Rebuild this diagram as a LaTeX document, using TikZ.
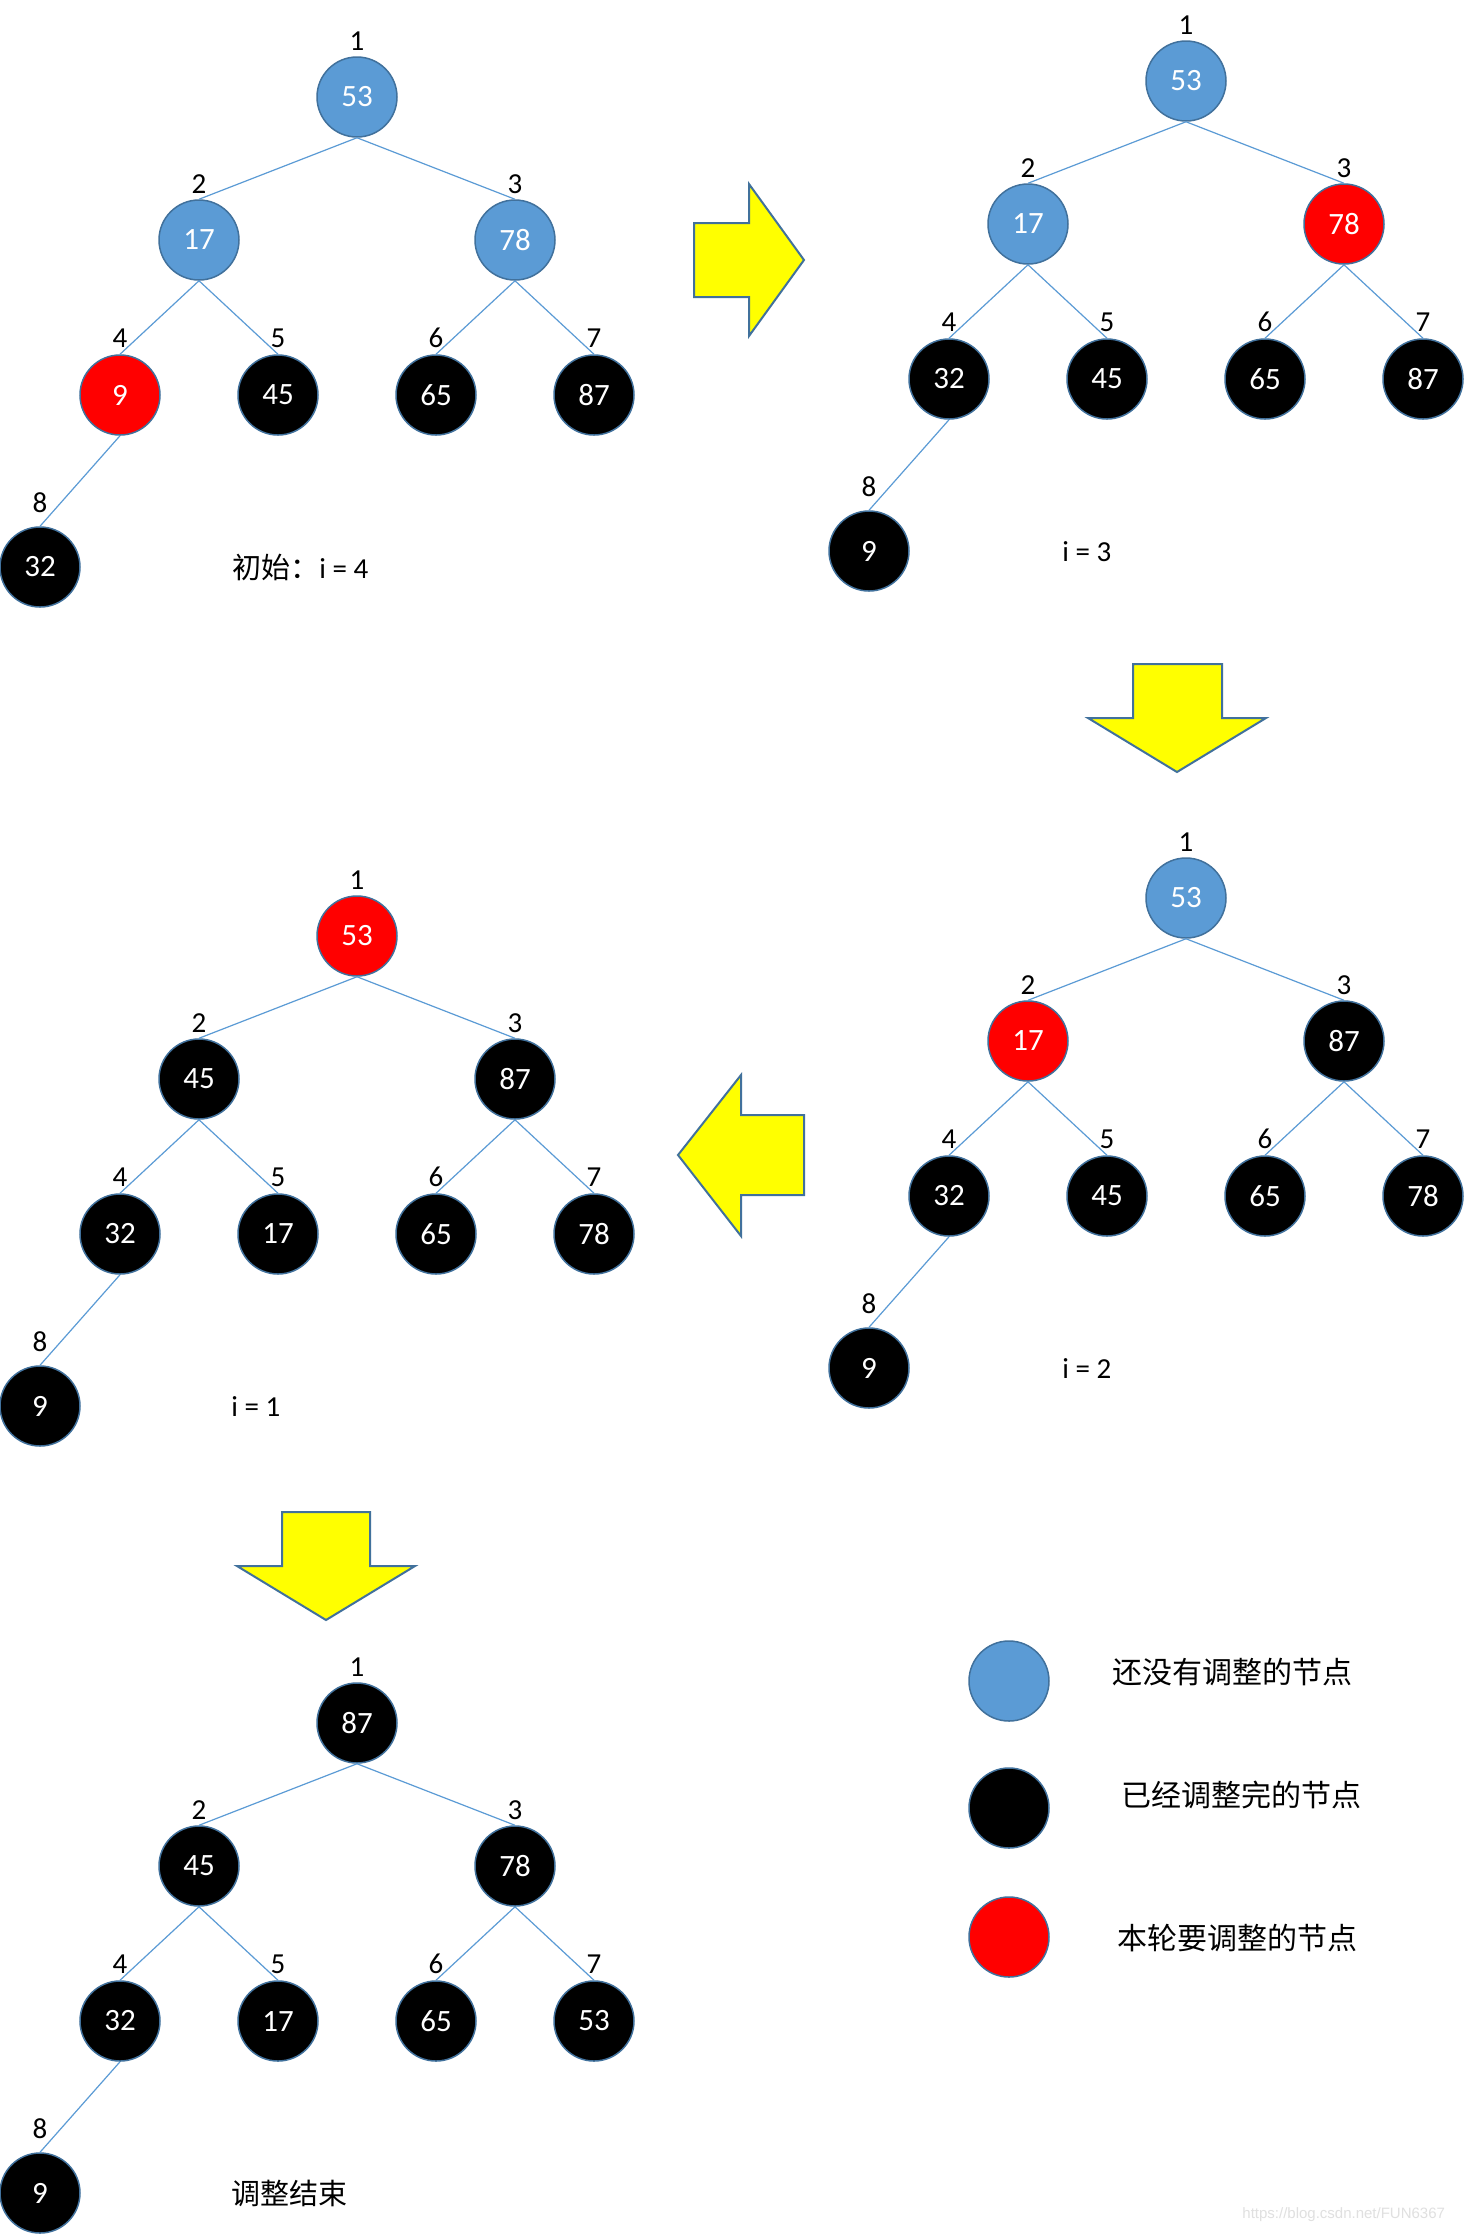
\documentclass[tikz,border=0pt]{standalone}
\usepackage{fontspec}
\setmainfont{Carlito}
\newfontfamily\cjk{Noto Sans CJK SC}
\newfontfamily\wmfont{Liberation Sans}
\definecolor{nblue}{HTML}{5B9BD5}
\definecolor{nborder}{HTML}{41719C}
\definecolor{nred}{HTML}{FF0000}
\definecolor{ayellow}{HTML}{FFFF00}
\tikzset{
  hn/.style={circle, minimum size=40pt, inner sep=0pt, draw=nborder, line width=0.75pt, text=white, font=\fontsize{15.5}{17}\selectfont},
  bn/.style={fill=nblue},
  kn/.style={fill=black},
  rn/.style={fill=nred},
  idx/.style={inner sep=0pt, font=\fontsize{14.5}{16}\selectfont},
  edge/.style={draw=nblue, line width=0.6pt},
  bigarrow/.style={fill=ayellow, draw=nborder, line width=1pt, line join=miter},
  caption/.style={anchor=west, inner sep=0pt, font=\fontsize{14.5}{16}\selectfont},
  legtext/.style={anchor=west, inner sep=0pt, font=\fontsize{15}{17}\selectfont\cjk},
}
\newcommand\heaptree[4]{%
  \begin{scope}[shift={(#2,#3)}]
  \foreach \v/\s [count=\i] in {#4} {
    \pgfmathsetmacro\ox{{0,-158,158,-237,-79,79,237,-317}[\i-1]}
    \pgfmathsetmacro\oy{{0,143,143,298,298,298,298,470}[\i-1]}
    \pgfmathsetmacro\ly{{56,56,56,57,57,57,57,64}[\i-1]}
    \node[hn,\s] (#1n\i) at (\ox,\oy) {\v};
    \node[idx] (#1i\i) at (\ox,\oy-\ly) {\i};
  }
  \foreach \p/\c in {1/2,1/3,2/4,2/5,3/6,3/7,4/8}
    \draw[edge] (#1n\p.south) -- (#1n\c.north);
  \end{scope}
}
\begin{document}
\begin{tikzpicture}[x=0.5pt,y=-0.5pt]
\fill[white] (0,0) rectangle (1465,2235);
\useasboundingbox (0,0) rectangle (1465,2235);

% trees
\heaptree{A}{357}{97}{53/bn,17/bn,78/bn,9/rn,45/kn,65/kn,87/kn,32/kn}
\heaptree{B}{1186}{81}{53/bn,17/bn,78/rn,32/kn,45/kn,65/kn,87/kn,9/kn}
\heaptree{D}{1186}{898}{53/bn,17/rn,87/kn,32/kn,45/kn,65/kn,78/kn,9/kn}
\heaptree{C}{357}{936}{53/rn,45/kn,87/kn,32/kn,17/kn,65/kn,78/kn,9/kn}
\heaptree{E}{357}{1723}{87/kn,45/kn,78/kn,32/kn,17/kn,65/kn,53/kn,9/kn}

% captions
\node[caption] (capA) at (232,567) {{\cjk 初始：}i = 4};
\node[caption] (capB) at (1062,552) {i = 3};
\node[caption] (capD) at (1062,1369) {i = 2};
\node[caption] (capC) at (231,1407) {i = 1};
\node[caption] (capE) at (231,2193) {\cjk 调整结束};

% big arrows
\draw[bigarrow] (694,223) -- (749,223) -- (749,184) -- (804,260) -- (749,336) -- (749,297) -- (694,297) -- cycle;
\draw[bigarrow] (1133,664) -- (1222,664) -- (1222,718) -- (1266,718) -- (1177,772) -- (1088,718) -- (1133,718) -- cycle;
\draw[bigarrow] (804,1115) -- (741,1115) -- (741,1075) -- (678,1155) -- (741,1236) -- (741,1195) -- (804,1195) -- cycle;
\draw[bigarrow] (282,1512) -- (370,1512) -- (370,1566) -- (415,1566) -- (326,1620) -- (237,1566) -- (282,1566) -- cycle;

% legend
\node[hn,bn] (legB) at (1009,1681) {};
\node[hn,kn] (legK) at (1009,1808) {};
\node[hn,rn] (legR) at (1009,1937) {};
\node[legtext] (legBt) at (1112,1672) {还没有调整的节点};
\node[legtext] (legKt) at (1121,1795) {已经调整完的节点};
\node[legtext] (legRt) at (1117,1938) {本轮要调整的节点};

% watermark
\node[anchor=west, inner sep=0pt, text=black!12, font=\fontsize{7.5}{9}\selectfont\wmfont] (wm) at (1242,2215) {https://blog.csdn.net/FUN6367};
\end{tikzpicture}
\end{document}
